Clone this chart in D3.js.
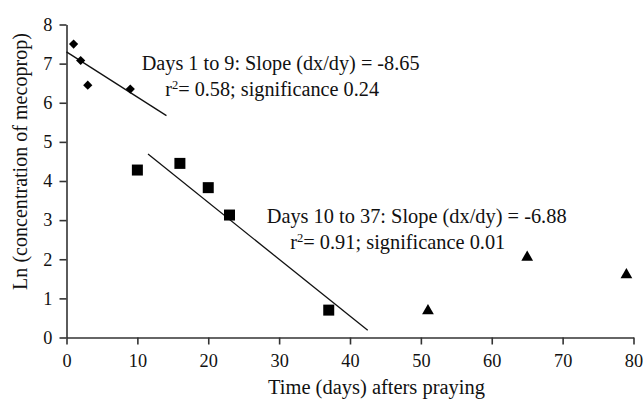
<!DOCTYPE html>
<html>
<head>
<meta charset="utf-8">
<script src="https://cdn.jsdelivr.net/npm/d3@7"></script>
<style>
  body { margin: 0; background: #fff; }
  svg text { font-family: "Liberation Serif", "Times New Roman", serif; fill: #111; }
  .axis path, .axis line { stroke: #333; stroke-width: 1.6; }
</style>
</head>
<body>
<svg id="canvas" width="643" height="402"></svg>
<script>

// days 1 to 9 (diamonds)
var earlyDays = [1, 2, 3, 9];
var earlyLn = [7.5, 7.08, 6.45, 6.35];

// days 10 to 37 (squares)
var midDays = [10, 16, 20, 23, 37];
var midLn = [4.28, 4.45, 3.83, 3.13, 0.7];

// later samples (triangles)
var lateDays = [51, 65, 79];
var lateLn = [0.68, 2.05, 1.6];

// fitted lines: [x start, x end], intercept, dx/dy
var fit1 = {from: 0, to: 14.1, intercept: 7.30, slope: -8.65};
var fit2 = {from: 11.5, to: 42.5, intercept: 6.36, slope: -6.88};

var xTicks = [0, 10, 20, 30, 40, 50, 60, 70, 80];
var yTicks = [0, 1, 2, 3, 4, 5, 6, 7, 8];

var svg = d3.select("#canvas");

var x = d3.scaleLinear().domain([0, 80]).range([66.5, 633.5]);
var y = d3.scaleLinear().domain([0, 8]).range([337.5, 24.5]);

function zip(xs, ys) {
	return xs.map(function(d, i) { return {x: d, y: ys[i]}; });
}

// scale a text's font so it spans the wanted width
function fitWidth(sel, base, want) {
	sel.style("font-size", base + "px");
	var w = sel.node().getComputedTextLength();
	var size = base * want / w;
	sel.style("font-size", size + "px");
	return size;
}

// axes
svg.append("g")
	.attr("class", "axis")
	.attr("transform", "translate(0," + y(0) + ")")
	.call(d3.axisBottom(x).tickValues(xTicks).tickSize(7).tickSizeOuter(0).tickPadding(10));

svg.append("g")
	.attr("class", "axis")
	.attr("transform", "translate(" + x(0) + ",0)")
	.call(d3.axisLeft(y).tickValues(yTicks).tickSize(7).tickSizeOuter(0).tickPadding(7));

svg.selectAll(".axis").attr("font-family", null).attr("font-size", null);
svg.selectAll(".axis text")
	.style("font-size", "18.3px")
	.attr("fill", "#111");

// fitted lines
[fit1, fit2].forEach(function(f) {
	svg.append("line")
		.attr("x1", x(f.from))
		.attr("y1", y(f.intercept + f.from / f.slope))
		.attr("x2", x(f.to))
		.attr("y2", y(f.intercept + f.to / f.slope))
		.attr("stroke", "#111")
		.attr("stroke-width", 1.3);
});

// markers
svg.selectAll(".diamond")
	.data(zip(earlyDays, earlyLn))
	.enter().append("path")
	.attr("d", d3.symbol().type(d3.symbolDiamond2).size(54))
	.attr("transform", function(d) { return "translate(" + x(d.x) + "," + y(d.y) + ")"; })
	.attr("fill", "#000");

svg.selectAll(".square")
	.data(zip(midDays, midLn))
	.enter().append("path")
	.attr("d", d3.symbol().type(d3.symbolSquare).size(121))
	.attr("transform", function(d) { return "translate(" + x(d.x) + "," + y(d.y) + ")"; })
	.attr("fill", "#000");

svg.selectAll(".triangle")
	.data(zip(lateDays, lateLn))
	.enter().append("path")
	.attr("d", d3.symbol().type(d3.symbolTriangle).size(60))
	.attr("transform", function(d) { return "translate(" + x(d.x) + "," + y(d.y) + ")"; })
	.attr("fill", "#000");

// annotations
function annotate(xp, yp, width, first, r2, sig) {
	var t1 = svg.append("text")
		.attr("x", xp).attr("y", yp)
		.text(first);
	var size = fitWidth(t1, 18, width);
	var t = svg.append("text")
		.attr("x", xp + 23.5).attr("y", yp + 26.5)
		.style("font-size", size + "px");
	t.append("tspan").text("r");
	t.append("tspan").attr("dy", -7).style("font-size", (size * 0.62) + "px").text("2");
	t.append("tspan").attr("dy", 7).text("= " + r2 + "; significance " + sig);
}

annotate(141.7, 69.5, 278, "Days 1 to 9: Slope (dx/dy) = -8.65", "0.58", "0.24");
annotate(266.7, 222.7, 300, "Days 10 to 37: Slope (dx/dy) = -6.88", "0.91", "0.01");

// axis titles
var xt = svg.append("text")
	.attr("x", 376.5).attr("y", 394)
	.attr("text-anchor", "middle")
	.text("Time (days) afters praying");
fitWidth(xt, 18, 217);

var yt = svg.append("text")
	.attr("transform", "translate(26.5,161.5) rotate(-90)")
	.attr("text-anchor", "middle")
	.text("Ln (concentration of mecoprop)");
fitWidth(yt, 18, 257);

</script>
</body>
</html>
